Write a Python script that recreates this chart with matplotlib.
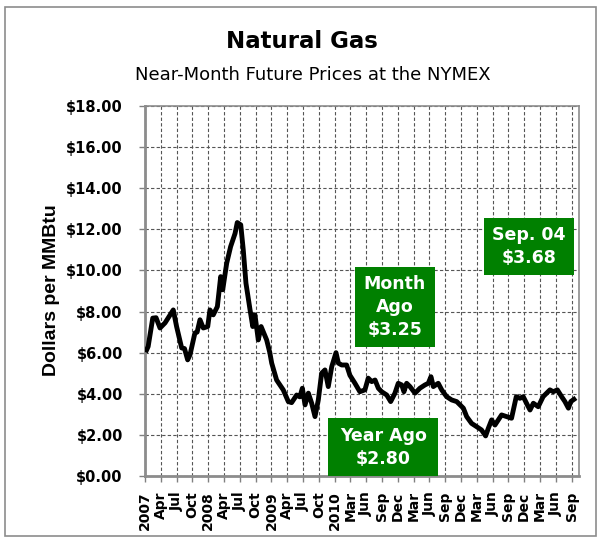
import matplotlib
matplotlib.use("Agg")
import matplotlib.pyplot as plt
from matplotlib.patches import Rectangle

# x positions in quarter-ticks since Jan 2007, price in $/MMBtu
quarters = [0.1, 0.2, 0.49, 0.7, 0.95, 1.27, 1.79, 2.0, 2.32, 2.5, 2.7, 2.85,
            3.16, 3.3, 3.48, 3.69, 3.97, 4.11, 4.32, 4.58, 4.79, 4.92, 5.17,
            5.42, 5.7, 5.84, 6.06, 6.22, 6.39, 6.65, 6.82, 6.96, 7.17, 7.35,
            7.7, 7.9, 8.02, 8.33, 8.75, 9.07, 9.28, 9.6, 9.8, 9.96, 10.13,
            10.34, 10.55, 10.76, 10.97, 11.18, 11.39, 11.6, 11.82, 12.09,
            12.24, 12.45, 12.76, 12.97, 13.29, 13.6, 13.92, 14.13, 14.35,
            14.56, 14.77, 14.98, 15.3, 15.55, 15.82, 16.03, 16.25, 16.39,
            16.56, 16.77, 17.09, 17.4, 17.72, 17.93, 18.1, 18.25, 18.56,
            18.78, 19.09, 19.41, 19.73, 20.15, 20.36, 20.67, 20.99, 21.3,
            21.56, 21.73, 21.94, 22.15, 22.57, 22.89, 23.2, 23.5, 23.73,
            23.94, 24.2, 24.37, 24.58, 24.89, 25.2, 25.42, 25.63, 25.84,
            26.1, 26.37, 26.58, 26.8, 26.95, 27.15]
price = [6.13, 6.3, 7.68, 7.7, 7.2, 7.45, 8.08, 7.27, 6.23, 6.2, 5.65, 5.9,
         6.96, 7.0, 7.6, 7.2, 7.27, 8.08, 7.84, 8.24, 9.7, 9.06, 10.35,
         11.16, 11.8, 12.33, 12.22, 11.0, 9.38, 8.08, 7.27, 7.84, 6.62, 7.27,
         6.62, 6.0, 5.49, 4.67, 4.19, 3.62, 3.57, 3.94, 3.85, 4.27, 3.46,
         4.03, 3.54, 2.89, 3.7, 5.0, 5.16, 4.35, 5.32, 6.0,
         5.49, 5.4, 5.4, 4.9, 4.51, 4.1, 4.19, 4.76, 4.59,
         4.67, 4.27, 4.1, 3.94, 3.62, 4.03, 4.51, 4.43, 4.1,
         4.51, 4.35, 4.03, 4.27, 4.43, 4.51, 4.83, 4.35, 4.51,
         4.19, 3.86, 3.7, 3.62, 3.3, 2.89, 2.56, 2.4, 2.24,
         1.95, 2.32, 2.73, 2.48, 2.97, 2.89, 2.81, 3.86, 3.78,
         3.86, 3.46, 3.21, 3.54, 3.37, 3.86, 4.03, 4.19, 4.1,
         4.19, 3.86, 3.62, 3.3, 3.62, 3.73]

x_labels = ['2007', 'Apr', 'Jul', 'Oct', '2008', 'Apr', 'Jul', 'Oct',
            '2009', 'Apr', 'Jul', 'Oct', '2010', 'Mar', 'Jun', 'Sep', 'Dec',
            'Mar', 'Jun', 'Sep', 'Dec', 'Mar', 'Jun', 'Sep', 'Dec', 'Mar',
            'Jun', 'Sep']
y_ticks = [0, 2, 4, 6, 8, 10, 12, 14, 16, 18]

callouts = [
    ("Month\nAgo\n$3.25", (13.29, 6.28, 5.06, 3.9)),
    ("Sep. 04\n$3.68", (21.46, 9.79, 5.71, 2.76)),
    ("Year Ago\n$2.80", (11.6, 0.0, 6.96, 2.81)),
]

W, H = 599, 541
fig = plt.figure(figsize=(W / 100, H / 100), dpi=100)
fig.patches.append(Rectangle((5 / W, 1 - 536 / H), 591 / W, 529 / H,
                             transform=fig.transFigure, fill=False,
                             edgecolor='#8c8c8c', lw=1.2))

ax = fig.add_axes([145 / W, 1 - 476 / H, 434 / W, 370 / H])
ax.plot(quarters, price, color='black', lw=3.5, solid_joinstyle='round',
        zorder=3)

ax.set_xlim(0, 27.47)
ax.set_ylim(0, 18)
ax.set_xticks(range(len(x_labels)))
ax.set_xticklabels(x_labels, rotation=90, fontsize=10, fontweight='bold',
                   family='DejaVu Sans')
ax.set_yticks(y_ticks)
ax.set_yticklabels([f"${v:.2f}" for v in y_ticks], fontsize=10.5,
                   fontweight='bold', family='DejaVu Sans')
ax.tick_params(axis='both', direction='out', length=4, color='#808080',
               width=1)
ax.tick_params(axis='y', pad=12)
ax.tick_params(axis='x', pad=7)

ax.grid(True, color='#555555', lw=0.8, linestyle=(0, (3, 2)))
ax.set_axisbelow(True)
for s in ax.spines.values():
    s.set_color('#8c8c8c')
    s.set_linewidth(1.2)
ax.spines['left'].set_linewidth(2)
ax.spines['bottom'].set_linewidth(2)

for txt, (x0, y0, w, h) in callouts:
    ax.add_patch(Rectangle((x0, y0), w, h, facecolor='#008000',
                           edgecolor='none', zorder=4))
    ax.text(x0 + w / 2, y0 + h / 2, txt, color='white', fontsize=12.5,
            fontweight='bold', ha='center', va='center', linespacing=1.35,
            family='DejaVu Sans', zorder=5)

fig.text(52 / W, 1 - 290 / H, "Dollars per MMBtu", rotation=90,
         fontsize=14, fontweight='bold', family='Liberation Sans',
         ha='center', va='center')
fig.text(302 / W, 1 - 41 / H, "Natural Gas", fontsize=16.5,
         fontweight='bold', family='DejaVu Sans', ha='center', va='center')
fig.text(313 / W, 1 - 75 / H, "Near-Month Future Prices at the NYMEX",
         fontsize=13, family='DejaVu Sans', ha='center', va='center')

fig.savefig("out.png", dpi=100)
